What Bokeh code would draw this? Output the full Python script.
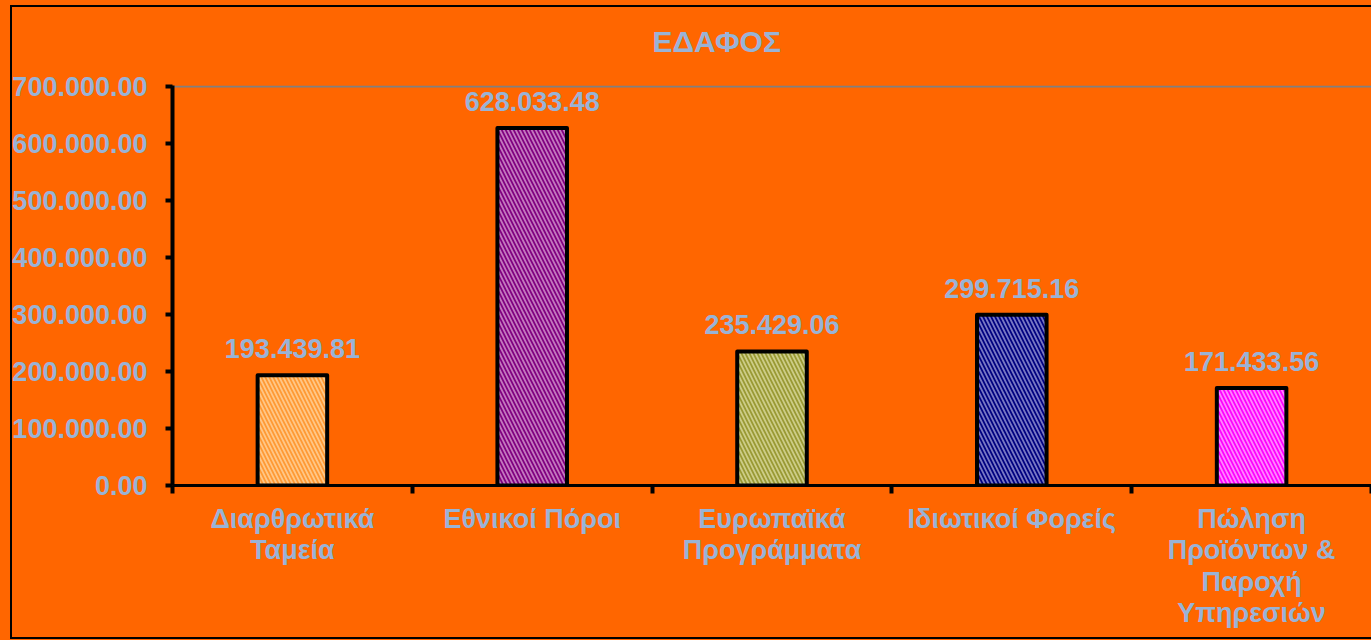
from bokeh.plotting import figure
from bokeh.models import ColumnDataSource, FixedTicker, LabelSet, Range1d, Title
from bokeh.core.properties import value
from bokeh.embed import file_html
from bokeh.resources import INLINE

# ---- data ----
categories = ["Διαρθρωτικά\nΤαμεία", "Εθνικοί Πόροι", "Ευρωπαϊκά\nΠρογράμματα",
              "Ιδιωτικοί Φορείς", "Πώληση\nΠροϊόντων &\nΠαροχή\nΥπηρεσιών"]
values = [193439.81, 628033.48, 235429.06, 299715.16, 171433.56]
value_labels = ["193.439.81", "628.033.48", "235.429.06", "299.715.16", "171.433.56"]
bar_colors = ["#FF9933", "#800080", "#999933", "#000080", "#FF00FF"]
hatch_colors = ["#FFE6C0", "#F0C8E8", "#F0F0C0", "#C8C8F0", "#FFE0FF"]
y_ticks = [0, 100000, 200000, 300000, 400000, 500000, 600000, 700000]
y_tick_labels = ["0.00", "100.000.00", "200.000.00", "300.000.00",
                 "400.000.00", "500.000.00", "600.000.00", "700.000.00"]
title_text = "ΕΔΑΦΟΣ"

BG = "#FF6600"
TXT = "#99B3D6"
FONT = "Liberation Sans"
FS = "27px"

xs = [i + 0.5 for i in range(len(categories))]
src = ColumnDataSource(dict(x=xs, top=values, color=bar_colors, hcolor=hatch_colors,
                            lab=value_labels))

p = figure(width=1371, height=640, output_backend="svg", toolbar_location=None,
           x_range=Range1d(0, len(categories)), y_range=Range1d(0, 702500),
           min_border_left=172, min_border_right=0, min_border_top=85, min_border_bottom=155)
p.background_fill_color = BG
p.border_fill_color = BG
p.border_fill_alpha = 0
p.outline_line_color = None
# orange chart area with a thin black border (left, top, bottom) drawn behind the canvas
p.styles = {
    "background": ("linear-gradient(#000,#000) 10px 5px / 2px 634px no-repeat, "
                   "linear-gradient(#000,#000) 10px 5px / 1400px 2px no-repeat, "
                   "linear-gradient(#000,#000) 10px 637px / 1400px 2px no-repeat, "
                   + BG),
}

# spacer between title and plot area
spacer = Title(text=" ", text_font_size="10px", standoff=13, text_color=BG)
p.add_layout(spacer, "above")

p.title.text = title_text
p.title.align = "left"
p.title.offset = 480
p.title.standoff = 4
p.title.text_color = TXT
p.title.text_font = FONT
p.title.text_font_size = "30px"
p.title.text_font_style = "bold"

p.vbar(x="x", top="top", width=0.29, source=src, fill_color="color",
       line_color="black", line_width=4, line_join="round",
       hatch_pattern="\\", hatch_color="hcolor", hatch_alpha=0.6,
       hatch_scale=8, hatch_weight=1.8)

labels = LabelSet(x="x", y="top", text="lab", source=src, text_align="center",
                  text_baseline="bottom", y_offset=17, text_color=TXT,
                  text_font=value(FONT), text_font_size=value(FS),
                  text_font_style="bold")
p.add_layout(labels)

# grid: only the top line
p.xgrid.visible = False
p.ygrid.ticker = FixedTicker(ticks=[700000])
p.ygrid.grid_line_color = "#808080"
p.ygrid.grid_line_width = 2

# y axis
ya = p.yaxis[0]
ya.ticker = FixedTicker(ticks=y_ticks)
ya.major_label_overrides = {v: s for v, s in zip(y_ticks, y_tick_labels)}
ya.axis_line_width = 4
ya.axis_line_color = "black"
ya.major_tick_line_width = 4
ya.major_tick_line_color = "black"
ya.major_tick_in = 0
ya.major_tick_out = 7
ya.minor_tick_line_color = None
ya.major_label_standoff = 18
ya.major_label_text_color = TXT
ya.major_label_text_font = FONT
ya.major_label_text_font_size = FS
ya.major_label_text_font_style = "bold"

# x axis
xa = p.xaxis[0]
xa.ticker = FixedTicker(ticks=xs, minor_ticks=list(range(len(categories) + 1)))
xa.major_label_overrides = {x: c for x, c in zip(xs, categories)}
xa.axis_line_width = 3
xa.axis_line_color = "black"
xa.major_tick_in = 0
xa.major_tick_out = 0
xa.major_tick_line_color = None
xa.minor_tick_in = 0
xa.minor_tick_out = 8
xa.minor_tick_line_width = 4
xa.minor_tick_line_color = "black"
xa.major_label_standoff = 10
xa.major_label_text_line_height = 1.05
xa.major_label_text_color = TXT
xa.major_label_text_font = FONT
xa.major_label_text_font_size = FS
xa.major_label_text_font_style = "bold"

open("out.html", "w").write(file_html(p, INLINE))
